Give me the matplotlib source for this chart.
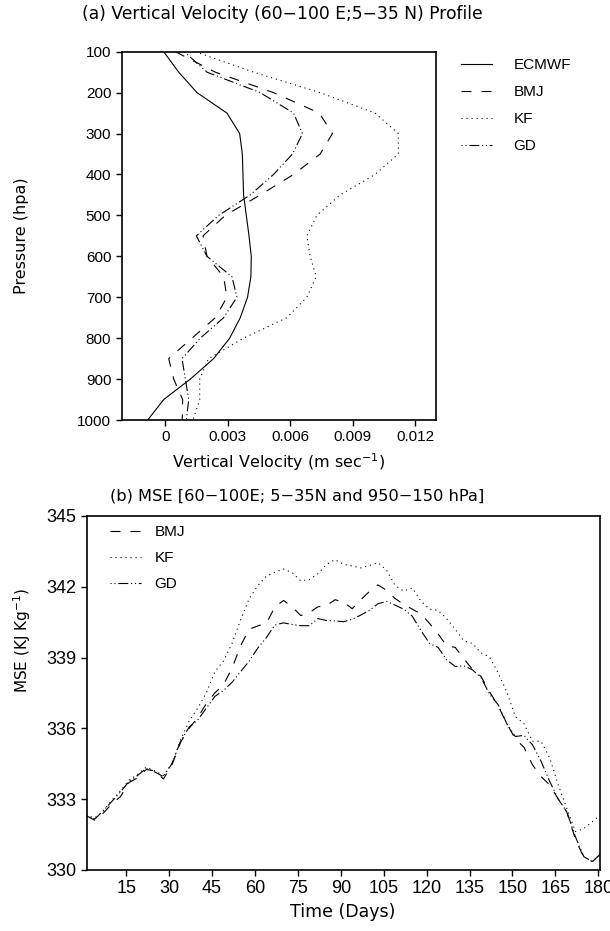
import matplotlib
matplotlib.use("Agg")
import matplotlib.pyplot as plt
from matplotlib.lines import Line2D

# panel (a): vertical velocity profiles
levels = [100, 150, 200, 250, 300, 350, 400, 450, 500, 550,
          600, 650, 700, 750, 800, 850, 900, 950, 1000]
ecmwf = [-0.00008, 0.00064, 0.00152, 0.00296, 0.00357, 0.0037, 0.00373, 0.00376, 0.00389, 0.00402,
         0.00413, 0.00411, 0.00395, 0.0036, 0.00309, 0.00232, 0.0012, -0.00008, -0.00085]
bmj_w = [0.00048, 0.0024, 0.0052, 0.0074, 0.00803, 0.00744, 0.00616, 0.00456, 0.00288, 0.00181,
         0.002, 0.0028, 0.00296, 0.0024, 0.00128, 0.00016, 0.0004, 0.00083, 0.00081]
kf_w = [0.00144, 0.00424, 0.00744, 0.01008, 0.0112, 0.0112, 0.01008, 0.0084, 0.00728, 0.0068,
        0.00696, 0.00725, 0.0068, 0.00584, 0.00376, 0.00208, 0.00165, 0.00165, 0.00133]
gd_w = [0.00091, 0.002, 0.00456, 0.00616, 0.00659, 0.00611, 0.0052, 0.00408, 0.00256, 0.00149,
        0.002, 0.0032, 0.00344, 0.0028, 0.00168, 0.0008, 0.00096, 0.00112, 0.00101]
w_ticks = [0, 0.003, 0.006, 0.009, 0.012]
w_ticklabels = ["0", "0.003", "0.006", "0.009", "0.012"]

# panel (b): MSE time series
days = [1, 4, 7, 10, 13, 16, 19, 22, 25, 28, 31, 34, 37, 40, 43, 46, 49, 52, 55, 58, 61,
        64, 67, 70, 73, 76, 79, 82, 85, 88, 91, 94, 97, 100, 103, 106, 109, 112, 115, 118, 121,
        124, 127, 130, 133, 136, 139, 142, 145, 148, 151, 154, 157, 160, 163, 166, 169, 172, 175,
        178, 181]
bmj_mse = [332.30, 332.10, 332.40, 332.80, 333.10, 333.70, 333.90, 334.25, 334.20, 333.85,
           334.45, 335.40, 336.00, 336.45, 337.05, 337.50, 337.85, 338.55, 339.50, 340.20,
           340.34, 340.45, 341.15, 341.42, 341.15, 340.78, 340.90, 341.15, 341.20, 341.45,
           341.35, 341.07, 341.45, 341.80, 342.08, 341.85, 341.50, 341.25, 341.05, 340.85,
           340.45, 340.00, 339.50, 339.43, 338.95, 338.50, 338.20, 337.55, 336.95, 336.20,
           335.55, 335.20, 334.45, 333.95, 333.60, 333.00, 332.45, 331.30, 330.50, 330.35,
           330.70]
kf_mse = [332.30, 332.20, 332.50, 332.95, 333.35, 333.80, 334.05, 334.35, 334.20, 334.00,
          334.50, 335.50, 336.30, 336.85, 337.50, 338.40, 338.85, 339.60, 340.60, 341.50,
          342.05, 342.45, 342.62, 342.75, 342.60, 342.25, 342.30, 342.55, 342.95, 343.15,
          342.95, 342.88, 342.80, 342.90, 343.02, 342.70, 342.05, 341.82, 341.95, 341.40,
          341.05, 341.00, 340.65, 340.20, 339.70, 339.60, 339.20, 339.02, 338.35, 337.55,
          336.50, 336.20, 335.45, 335.45, 334.75, 333.60, 332.60, 331.62, 331.75, 332.05,
          332.35]
gd_mse = [332.30, 332.15, 332.50, 332.90, 333.30, 333.75, 334.00, 334.30, 334.15, 333.95,
          334.50, 335.45, 336.05, 336.35, 336.85, 337.35, 337.60, 337.95, 338.40, 338.85,
          339.40, 339.85, 340.38, 340.47, 340.40, 340.35, 340.35, 340.65, 340.57, 340.55,
          340.52, 340.62, 340.80, 341.00, 341.28, 341.38, 341.22, 341.05, 340.75, 340.15,
          339.60, 339.43, 338.90, 338.62, 338.65, 338.48, 338.15, 337.45, 337.00, 336.20,
          335.65, 335.70, 335.30, 334.60, 333.75, 333.00, 332.45, 331.40, 330.55, 330.35,
          330.70]
day_ticks = [15, 30, 45, 60, 75, 90, 105, 120, 135, 150, 165, 180]
mse_ticks = [330, 333, 336, 339, 342, 345]

W, H = 610, 931
fig = plt.figure(figsize=(W / 100, H / 100), dpi=100)

tick_font = ["Liberation Sans", "DejaVu Sans"]
label_font = ["DejaVu Sans"]
lw = 0.8
styles = {
    "ECMWF": dict(color="black", lw=lw, linestyle="-"),
    "BMJ": dict(color="black", lw=lw, linestyle=(0, (9, 9))),
    "KF": dict(color="black", lw=lw, linestyle=(0, (1, 3.5))),
    "GD": dict(color="black", lw=lw, linestyle=(0, (1, 2.5, 1, 2.5, 9, 2.5))),
}


def px_axes(l, t, r, b):
    return fig.add_axes([l / W, 1 - b / H, (r - l) / W, (b - t) / H])


def style_axes(ax):
    for s in ax.spines.values():
        s.set_linewidth(1.2)
    ax.tick_params(direction="out", length=4, width=1, top=False, right=False)
    for lab in ax.get_xticklabels() + ax.get_yticklabels():
        lab.set_family(tick_font)
        lab.set_fontsize(11)


# ---- (a)
ax1 = px_axes(121.7, 51.7, 436, 420)
ax1.plot(ecmwf, levels, **styles["ECMWF"])
ax1.plot(bmj_w, levels, **styles["BMJ"])
ax1.plot(kf_w, levels, **styles["KF"])
ax1.plot(gd_w, levels, **styles["GD"])
ax1.set_ylim(1000, 100)
ax1.set_xlim(-0.0021, 0.01301)
ax1.set_yticks(range(100, 1001, 100))
ax1.set_xticks(w_ticks)
ax1.set_xticklabels(w_ticklabels)
style_axes(ax1)

fig.text(282 / W, 1 - 14 / H, "(a) Vertical Velocity (60\u2212100 E;5\u221235 N) Profile",
         ha="center", va="center", fontsize=12.3, family=label_font)
fig.text(279 / W, 1 - 462 / H, "Vertical Velocity (m sec$^{-1}$)",
         ha="center", va="center", fontsize=11.5, family=label_font)
fig.text(22 / W, 1 - 236 / H, "Pressure (hpa)", rotation=90,
         ha="center", va="center", fontsize=11.5, family=label_font)

h1 = [Line2D([], [], **styles[k]) for k in ["ECMWF", "BMJ", "KF", "GD"]]
fig.legend(h1, ["ECMWF", "BMJ", "KF", "GD"], loc="upper left",
           bbox_to_anchor=(461 / W, 1 - 58 / H), frameon=False,
           handlelength=2.0, handletextpad=1.45, labelspacing=0.85,
           borderpad=0, borderaxespad=0,
           prop={"family": tick_font, "size": 11})

# ---- (b)
ax2 = px_axes(86.7, 516, 600.3, 869.8)
ax2.plot(days, bmj_mse, **styles["BMJ"])
ax2.plot(days, kf_mse, **styles["KF"])
ax2.plot(days, gd_mse, **styles["GD"])
ax2.set_xlim(1.2, 180.7)
ax2.set_ylim(330, 345)
ax2.set_xticks(day_ticks)
ax2.set_yticks(mse_ticks)
style_axes(ax2)
for lab in ax2.get_xticklabels() + ax2.get_yticklabels():
    lab.set_fontsize(13)

fig.text(297 / W, 1 - 496 / H, "(b) MSE [60\u2212100E; 5\u221235N and 950\u2212150 hPa]",
         ha="center", va="center", fontsize=11.7, family=label_font)
fig.text(343 / W, 1 - 912 / H, "Time (Days)",
         ha="center", va="center", fontsize=12.5, family=label_font)
fig.text(22 / W, 1 - 640 / H, "MSE (KJ Kg$^{-1}$)", rotation=90,
         ha="center", va="center", fontsize=11, family=label_font)

h2 = [Line2D([], [], **styles[k]) for k in ["BMJ", "KF", "GD"]]
fig.legend(h2, ["BMJ", "KF", "GD"], loc="upper left",
           bbox_to_anchor=(110 / W, 1 - 525 / H), frameon=False,
           handlelength=2.0, handletextpad=0.9, labelspacing=0.8,
           borderpad=0, borderaxespad=0,
           prop={"family": tick_font, "size": 11})

fig.savefig("out.png", dpi=100)
